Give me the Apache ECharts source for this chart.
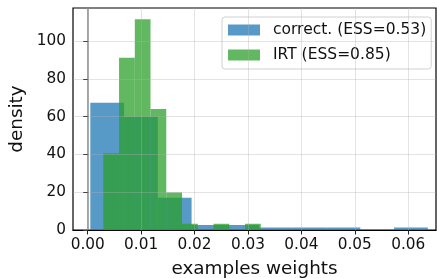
<!DOCTYPE html>
<html>
<head>
<meta charset="utf-8">
<script src="https://cdn.jsdelivr.net/npm/echarts@6/dist/echarts.min.js"></script>
<style>
html,body{margin:0;padding:0;background:#fff;}
#chart{width:437px;height:278px;}
</style>
</head>
<body>
<div id="chart"></div>
<script>
// Histogram bin edges
const blueEdges = [0.00049, 0.00681, 0.01313, 0.01945, 0.02576, 0.03208, 0.03840, 0.04472, 0.05103, 0.05735, 0.06367];
const blueDensity = [67.4, 60.0, 17.1, 2.6, 2.6, 1.3, 1.3, 1.3, 0, 1.3];
const greenEdges = [0.00292, 0.00587, 0.00882, 0.01176, 0.01471, 0.01766, 0.02061, 0.02356, 0.02650, 0.02945, 0.03240];
const greenDensity = [40.6, 91.2, 111.5, 64.0, 19.9, 3.3, 0, 3.3, 0, 3.3];
const seriesNames = ['correct. (ESS=0.53)', 'IRT (ESS=0.85)'];
const xTicks = [0, 0.01, 0.02, 0.03, 0.04, 0.05, 0.06];
const yTicks = [0, 20, 40, 60, 80, 100];
const xLabel = 'examples weights';
const yLabel = 'density';

const FONT = 'DejaVu Sans';
const blueFill = 'rgba(31,119,180,0.75)';
const greenFill = 'rgba(44,160,44,0.75)';

function toBins(edges, vals) {
  return vals.map((v, i) => [edges[i], edges[i + 1], v]);
}
function makeRender(fill) {
  return function (params, api) {
    const p0 = api.coord([api.value(0), api.value(2)]);
    const p1 = api.coord([api.value(1), 0]);
    return {
      type: 'rect',
      shape: { x: p0[0], y: p0[1], width: p1[0] - p0[0], height: p1[1] - p0[1] },
      style: { fill: fill }
    };
  };
}

const chart = echarts.init(document.getElementById('chart'), null, { renderer: 'canvas' });
const gridLine = { show: true, lineStyle: { color: 'rgba(176,176,176,0.35)', width: 1 } };
chart.setOption({
  animation: false,
  grid: { left: 73, right: 1, top: 8, bottom: 48, containLabel: false, outerBoundsMode: 'none', show: true, borderColor: '#000', borderWidth: 1.2, backgroundColor: 'transparent' },
  xAxis: {
    type: 'value', min: -0.00275, max: 0.0652, splitNumber: 7, z: 5,
    name: xLabel, nameLocation: 'middle', nameGap: 30,
    nameTextStyle: { fontFamily: FONT, fontSize: 18.4, color: '#111' },
    axisLine: { lineStyle: { color: '#000', width: 1.2 } },
    axisTick: { show: true, customValues: xTicks, length: 4.5, lineStyle: { color: '#222', width: 1 } },
    axisLabel: { customValues: xTicks, formatter: v => v.toFixed(2), fontFamily: FONT, fontSize: 15.3, color: '#111', margin: 8 },
    splitLine: gridLine
  },
  yAxis: {
    type: 'value', min: 0, max: 117.5, splitNumber: 6, z: 5,
    name: yLabel, nameLocation: 'middle', nameGap: 44, nameRotate: 90,
    nameTextStyle: { fontFamily: FONT, fontSize: 18.4, color: '#111' },
    axisLine: { show: true, lineStyle: { color: '#8c8c8c', width: 1.5 } },
    axisTick: { show: true, customValues: yTicks, length: 4.5, lineStyle: { color: '#444', width: 1 } },
    axisLabel: { customValues: yTicks, fontFamily: FONT, fontSize: 15.3, color: '#111', margin: 7 },
    splitLine: gridLine
  },
  legend: {
    orient: 'vertical', left: 222, top: 17, padding: [4, 5, 5, 6],
    itemWidth: 32, itemHeight: 11, itemGap: 7, icon: 'rect',
    backgroundColor: 'rgba(255,255,255,0.8)', borderColor: '#d0d0d0', borderWidth: 1, borderRadius: 3,
    textStyle: { fontFamily: FONT, fontSize: 15.5, color: '#111', lineHeight: 18, padding: [0, 0, 0, 8] },
    data: seriesNames
  },
  series: [
    {
      type: 'custom', name: seriesNames[0], renderItem: makeRender(blueFill),
      itemStyle: { color: blueFill }, encode: { x: [0, 1], y: 2 },
      data: toBins(blueEdges, blueDensity), z: 2
    },
    {
      type: 'custom', name: seriesNames[1], renderItem: makeRender(greenFill),
      itemStyle: { color: greenFill }, encode: { x: [0, 1], y: 2 },
      data: toBins(greenEdges, greenDensity), z: 3
    }
  ]
});
</script>
</body>
</html>
